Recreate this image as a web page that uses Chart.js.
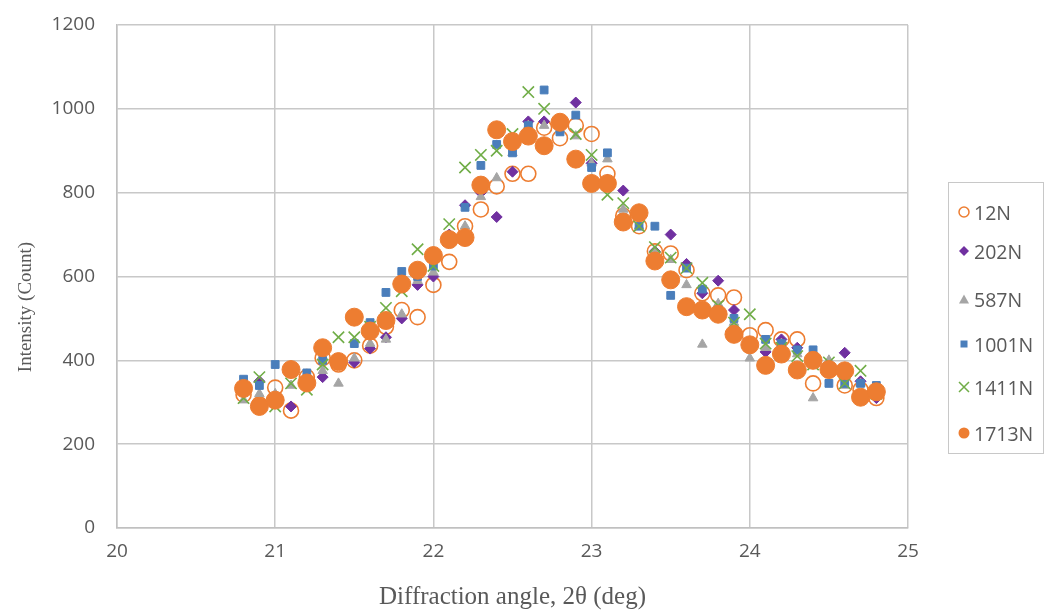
<!DOCTYPE html>
<html>
<head>
<meta charset="utf-8">
<script src="https://cdn.jsdelivr.net/npm/chart.js@4.4.1/dist/chart.umd.min.js"></script>
<style>
  body { margin: 0; background: #fff; }
  #wrap { position: relative; width: 1046px; height: 610px; }
  #legend {
    position: absolute; left: 948px; top: 182px; width: 96px; height: 272px;
    border: 1.5px solid #c8c8c8; box-sizing: border-box;
    font-family: "Open Sans", sans-serif; font-size: 19.5px; color: #595959;
  }
  .item { position: absolute; left: 8px; display: flex; align-items: center; height: 26px; }
  .item svg { margin-right: 3px; }
</style>
</head>
<body>
<div id="wrap">
  <canvas id="myChart" width="1046" height="610"></canvas>
  <div id="legend"></div>
</div>
<script>
// angle values 20.8 .. 24.8
const angulos = [20.8, 20.9, 21.0, 21.1, 21.2, 21.3, 21.4, 21.5, 21.6, 21.7, 21.8, 21.9, 22.0, 22.1, 22.2, 22.3, 22.4, 22.5, 22.6, 22.7, 22.8, 22.9, 23.0, 23.1, 23.2, 23.3, 23.4, 23.5, 23.6, 23.7, 23.8, 23.9, 24.0, 24.1, 24.2, 24.3, 24.4, 24.5, 24.6, 24.7, 24.8];

const serie12 = [318, 295, 335, 280, 360, 405, 390, 400, 435, 480, 520, 503, 580, 635, 720, 760, 815, 845, 845, 955, 930, 960, 940, 845, 745, 720, 660, 655, 615, 560, 555, 550, 460, 472, 450, 450, 345, 380, 340, 330, 310];
const serie202 = [325, 350, 315, 290, 355, 360, 390, 395, 428, 455, 500, 580, 600, 700, 770, 800, 742, 850, 970, 970, 960, 1015, 870, 830, 805, 745, 660, 700, 630, 560, 590, 520, 445, 420, 450, 430, 400, 380, 418, 350, 310];
const serie587 = [305, 320, 320, 340, 360, 375, 345, 405, 440, 450, 510, 590, 610, 690, 720, 790, 835, 895, 960, 960, 950, 935, 870, 880, 760, 720, 660, 640, 580, 438, 535, 490, 405, 430, 440, 415, 310, 400, 340, 345, 330];
const serie1001 = [355, 340, 390, 370, 370, 400, 390, 440, 490, 562, 612, 600, 625, 690, 765, 865, 915, 895, 960, 1045, 945, 985, 860, 895, 740, 720, 720, 555, 620, 570, 520, 500, 430, 450, 440, 425, 425, 345, 345, 345, 340];
const serie1411 = [310, 360, 290, 345, 330, 390, 455, 455, 480, 525, 565, 665, 625, 725, 860, 890, 900, 940, 1040, 1000, 970, 940, 890, 795, 775, 720, 670, 645, 620, 585, 530, 490, 510, 440, 430, 410, 390, 395, 345, 375, 320];
const serie1713 = [333, 290, 305, 378, 346, 430, 397, 503, 470, 495, 582, 615, 650, 688, 693, 818, 950, 922, 935, 912, 968, 880, 822, 822, 730, 752, 637, 592, 528, 520, 510, 462, 437, 388, 415, 377, 400, 378, 375, 312, 325];

const nombres = ["12N", "202N", "587N", "1001N", "1411N", "1713N"];
const xTicks = [20, 21, 22, 23, 24, 25];
const yTicks = [0, 200, 400, 600, 800, 1000, 1200];

const ctx = document.getElementById("myChart");

const armarPuntos = (valores) => valores.map((v, i) => ({ x: angulos[i], y: v }));

const datasets = [
  { label: nombres[0], data: armarPuntos(serie12), pointStyle: "circle", pointRadius: 7.5, borderColor: "#ED7D31", backgroundColor: "rgba(255,255,255,0)", borderWidth: 1.6, order: 5 },
  { label: nombres[1], data: armarPuntos(serie202), pointStyle: "rectRot", pointRadius: 5.5, borderColor: "#7030A0", backgroundColor: "#7030A0", borderWidth: 1, order: 4 },
  { label: nombres[2], data: armarPuntos(serie587), pointStyle: "triangle", pointRadius: 5.5, borderColor: "#A5A5A5", backgroundColor: "#A5A5A5", borderWidth: 1, order: 3 },
  { label: nombres[3], data: armarPuntos(serie1001), pointStyle: "rect", pointRadius: 5.5, borderColor: "#4A7EBB", backgroundColor: "#4A7EBB", borderWidth: 1, order: 2 },
  { label: nombres[4], data: armarPuntos(serie1411), pointStyle: "crossRot", pointRadius: 8, borderColor: "#70AD47", backgroundColor: "#70AD47", borderWidth: 1.6, order: 1 },
  { label: nombres[5], data: armarPuntos(serie1713), pointStyle: "circle", pointRadius: 9, borderColor: "#ED7D31", backgroundColor: "#ED7D31", borderWidth: 1, order: 0 },
];

const tickFont = { family: "'Open Sans', sans-serif", size: 19 };
const serif = "'Liberation Serif', 'Times New Roman', serif";

// titulo del eje Y, un poco mas abajo que el centro del area
const tituloY = {
  id: "tituloY",
  afterDraw: (chart) => {
    const c = chart.ctx;
    c.save();
    c.translate(26, 307);
    c.rotate(-Math.PI / 2);
    c.font = `19px ${serif}`;
    c.fillStyle = "#595959";
    c.textAlign = "center";
    c.textBaseline = "middle";
    c.fillText("Intensity (Count)", 0, 0);
    c.restore();
  },
};

const config = {
  type: "scatter",
  data: { datasets },
  options: {
    responsive: false,
    animation: false,
    layout: { padding: { top: 25, right: 138, left: 0, bottom: 0 } },
    plugins: { legend: { display: false }, tooltip: { enabled: false } },
    scales: {
      x: {
        type: "linear",
        min: 20,
        max: 25,
        afterFit: (s) => { s.height = 82; s.paddingLeft = 0; s.paddingRight = 0; },
        afterBuildTicks: (s) => { s.ticks = xTicks.map((v) => ({ value: v })); },
        grid: { color: "#c8c8c8", lineWidth: 1.5, drawTicks: false },
        border: { color: "#c0c0c0", width: 1.5 },
        ticks: { color: "#595959", font: tickFont, padding: 12, callback: (v) => String(v) },
        title: { display: true, text: "Diffraction angle, 2θ (deg)", color: "#595959", font: { family: serif, size: 25 }, padding: { top: 0, bottom: -2 } },
      },
      y: {
        min: 0,
        max: 1200,
        afterFit: (s) => { s.width = 117; s.paddingTop = 0; s.paddingBottom = 0; },
        afterBuildTicks: (s) => { s.ticks = yTicks.map((v) => ({ value: v })); },
        grid: { color: "#c8c8c8", lineWidth: 1.5, drawTicks: false },
        border: { color: "#c0c0c0", width: 1.5 },
        ticks: { color: "#595959", font: tickFont, padding: 22, callback: (v) => String(v) },
      },
    },
  },
  plugins: [tituloY],
};

let myChart = new Chart(ctx, config);

// leyenda a mano, para el recuadro
const iconos = [
  '<svg width="14" height="14"><circle cx="7" cy="7" r="5" fill="none" stroke="#ED7D31" stroke-width="1.5"/></svg>',
  '<svg width="14" height="14"><polygon points="7,2 12,7 7,12 2,7" fill="#7030A0"/></svg>',
  '<svg width="14" height="14"><polygon points="7,2.5 12,11.5 2,11.5" fill="#A5A5A5"/></svg>',
  '<svg width="14" height="14"><rect x="3.5" y="3.5" width="7" height="7" fill="#4A7EBB"/></svg>',
  '<svg width="14" height="14"><path d="M2 2 L12 12 M12 2 L2 12" stroke="#70AD47" stroke-width="1.5"/></svg>',
  '<svg width="14" height="14"><circle cx="7" cy="7" r="5.5" fill="#ED7D31"/></svg>',
];
const posY = [16, 55, 103, 148, 191, 237];
const legend = document.getElementById("legend");
let template = "";
nombres.forEach((n, i) => {
  template += `<div class="item" style="top:${posY[i]}px">${iconos[i]}<span>${n}</span></div>`;
});
legend.innerHTML = template;
</script>
</body>
</html>
